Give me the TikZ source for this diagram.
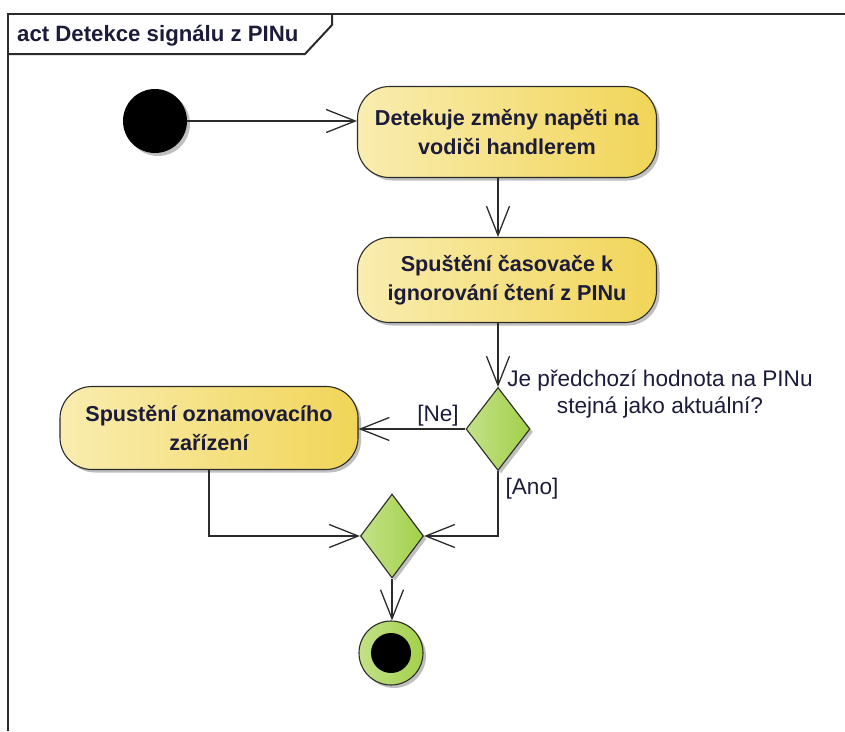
\documentclass[tikz,border=0pt]{standalone}
\usepackage{fontspec}
\setmainfont{Liberation Sans}
\usetikzlibrary{arrows.meta,shapes.geometric,shadows}

\definecolor{lineGray}{HTML}{2B2B2B}
\definecolor{actLeft}{HTML}{F9EDB0}
\definecolor{actRight}{HTML}{F1D558}
\definecolor{decLeft}{HTML}{C3E188}
\definecolor{decRight}{HTML}{A2D04A}
\definecolor{textNavy}{HTML}{1C1C3A}

\tikzset{
  shade/.style={drop shadow={shadow xshift=3pt, shadow yshift=-3pt, opacity=0.25, fill=black}},
  action/.style={rectangle, rounded corners=32pt, draw=lineGray, line width=1.1pt,
    left color=actLeft, right color=actRight, shade,
    minimum width=299pt, align=center, font=\fontsize{21.6}{29}\selectfont\bfseries,
    text=textNavy, inner sep=0pt},
  decision/.style={diamond, draw=lineGray, line width=1.1pt, inner sep=0pt,
    left color=decLeft, right color=decRight, shade},
  flow/.style={draw=lineGray, line width=1.3pt,
    -{Straight Barb[length=29pt,width=23pt,line width=1.3pt]}},
  guard/.style={font=\fontsize{22.6}{27}\selectfont, text=textNavy, inner sep=0pt},
  frameline/.style={draw=lineGray, line width=2pt}
}

\begin{document}
\begin{tikzpicture}[x=1pt,y=-1pt]
  \useasboundingbox (0,0) rectangle (845,731);

  % diagram frame with name tab
  \draw[frameline] (8,731) -- (8,14) -- (845,14);
  \draw[frameline] (8,54) -- (305,54) -- (332,25) -- (332,14);
  \node[anchor=west, font=\fontsize{22.2}{27}\selectfont\bfseries, text=textNavy, inner sep=0pt]
    (title) at (17,36) {act Detekce signálu z PINu};

  % initial node
  \node[circle, fill=black, minimum size=64pt, inner sep=0pt, shade] (init) at (155,121) {};

  % actions
  \node[action, minimum height=91pt] (a1) at (507,132)
    {Detekuje změny napěti na\\vodiči handlerem};
  \node[action, minimum height=85pt] (a2) at (507,280)
    {Spuštění časovače k\\ignorování čtení z PINu};
  \node[action, minimum height=83pt, minimum width=298pt] (a3) at (209,428)
    {Spustění oznamovacího\\zařízení};

  % decision and merge
  \node[decision, minimum width=64pt, minimum height=83pt] (dec) at (498,429) {};
  \node[guard, align=center] (question) at (660,394)
    {Je předchozí hodnota na PINu\\stejná jako aktuální?};
  \node[decision, minimum width=63pt, minimum height=84pt] (merge) at (392,536) {};

  % final node
  \node[circle, draw=lineGray, line width=1.1pt, left color=decLeft, right color=decRight,
        minimum size=64pt, inner sep=0pt, shade] (final) at (391,653) {};
  \node[circle, fill=black, minimum size=40pt, inner sep=0pt] (finalcore) at (final) {};

  % control flows
  \draw[flow] (init.east) -- (init.east -| a1.west);
  \draw[flow] (a1.south -| dec) -- (a2.north -| dec);
  \draw[flow] (a2.south -| dec) -- (dec.north);
  \draw[flow] (dec.west) -- (dec.west -| a3.east);
  \node[guard] (ne) at (438,416) {[Ne]};
  \draw[flow] (dec.south) |- (merge.east);
  \node[guard] (ano) at (532,489) {[Ano]};
  \draw[flow] (a3.south) |- (merge.west);
  \draw[flow] (merge.south) -- (merge.south |- final.north);
\end{tikzpicture}
\end{document}
